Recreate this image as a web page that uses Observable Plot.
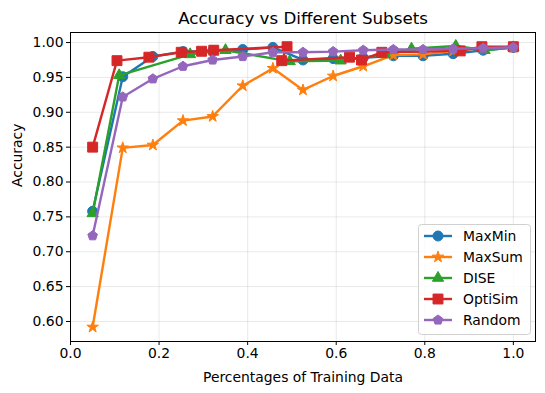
<!DOCTYPE html>
<html>
<head>
<meta charset="utf-8">
<script src="https://cdn.jsdelivr.net/npm/d3@7"></script>
<script src="https://cdn.jsdelivr.net/npm/@observablehq/plot@0.6"></script>
<style>
  html, body { margin: 0; padding: 0; background: #fff; }
  #chart svg { display: block; }
</style>
</head>
<body>
<div id="chart"></div>
<script>
// ---- data ----
const seriesNames = ["MaxMin", "MaxSum", "DISE", "OptiSim", "Random"];
const seriesColors = ["#1f77b4", "#ff7f0e", "#2ca02c", "#d62728", "#9467bd"];

const xGrid = [0.05, 0.118, 0.186, 0.254, 0.321, 0.389, 0.457, 0.525, 0.593, 0.661, 0.729, 0.796, 0.864, 0.932, 1.0];

const xMaxMin = xGrid;
const yMaxMin = [0.758, 0.951, 0.980, 0.987, 0.988, 0.990, 0.993, 0.975, 0.977, 0.978, 0.981, 0.981, 0.984, 0.989, 0.993];

const xMaxSum = xGrid;
const yMaxSum = [0.592, 0.849, 0.853, 0.888, 0.894, 0.938, 0.963, 0.932, 0.952, 0.966, 0.982, 0.983, 0.988, 0.992, 0.993];

const xDISE = [0.05, 0.11, 0.27, 0.35, 0.495, 0.61, 0.71, 0.77, 0.87, 0.935, 1.0];
const yDISE = [0.755, 0.953, 0.983, 0.989, 0.973, 0.974, 0.983, 0.991, 0.995, 0.989, 0.993];

const xOptiSim = [0.05, 0.105, 0.177, 0.25, 0.296, 0.3235, 0.489, 0.477, 0.63, 0.657, 0.703, 0.88, 0.929, 1.0];
const yOptiSim = [0.850, 0.974, 0.979, 0.986, 0.9875, 0.989, 0.994, 0.974, 0.979, 0.975, 0.986, 0.988, 0.994, 0.994];

const xRandom = xGrid;
const yRandom = [0.723, 0.922, 0.948, 0.966, 0.975, 0.980, 0.986, 0.986, 0.987, 0.989, 0.990, 0.990, 0.991, 0.992, 0.993];

const xTicks = [0, 0.2, 0.4, 0.6, 0.8, 1.0];
const yTicks = [0.60, 0.65, 0.70, 0.75, 0.80, 0.85, 0.90, 0.95, 1.00];

const titleText = "Accuracy vs Different Subsets";
const xLabel = "Percentages of Training Data";
const yLabel = "Accuracy";

// ---- symbols ----
const symbolPentagon = {
  draw(context, size) {
    const R = Math.sqrt(size / 2.3776);
    for (let k = 0; k < 5; k++) {
      const a = -Math.PI / 2 + k * 2 * Math.PI / 5;
      const px = R * Math.cos(a), py = R * Math.sin(a);
      if (k === 0) context.moveTo(px, py); else context.lineTo(px, py);
    }
    context.closePath();
  }
};
const seriesSymbols = [d3.symbolCircle, d3.symbolStar, d3.symbolTriangle, d3.symbolSquare, symbolPentagon];
const seriesR = [5, 3.6, 4.2, 5.6, 4.4];

const xs = [xMaxMin, xMaxSum, xDISE, xOptiSim, xRandom];
const ys = [yMaxMin, yMaxSum, yDISE, yOptiSim, yRandom];
const tables = seriesNames.map((name, i) => xs[i].map((x, j) => ({series: name, x, y: ys[i][j]})));

const font = "DejaVu Sans, Liberation Sans, sans-serif";
const fs = 13.9;

const marks = [
  Plot.gridX(xTicks, {stroke: "#b0b0b0", strokeOpacity: 0.35, strokeWidth: 0.8}),
  Plot.gridY(yTicks, {stroke: "#b0b0b0", strokeOpacity: 0.35, strokeWidth: 0.8}),
  Plot.axisX(xTicks, {tickSize: 4, tickPadding: 3, fontSize: fs, tickFormat: d3.format(".1f"), label: null}),
  Plot.axisY(yTicks, {tickSize: 4, tickPadding: 3, fontSize: fs, tickFormat: d3.format(".2f"), label: null}),
];
tables.forEach((t, i) => {
  marks.push(Plot.line(t, {x: "x", y: "y", stroke: seriesColors[i], strokeWidth: 2.4}));
  marks.push(Plot.dot(t, {x: "x", y: "y", symbol: seriesSymbols[i], r: seriesR[i], fill: seriesColors[i], stroke: seriesColors[i], strokeWidth: 1}));
});
marks.push(
  Plot.frame({stroke: "#000", strokeWidth: 1}),
  Plot.text([titleText], {text: d => d, frameAnchor: "top", dy: -14, fontSize: 16.7, lineAnchor: "middle"}),
  Plot.text([xLabel], {text: d => d, frameAnchor: "bottom", dy: 36, fontSize: fs, lineAnchor: "middle"}),
  Plot.text([yLabel], {text: d => d, frameAnchor: "left", dx: -53, rotate: -90, fontSize: fs, lineAnchor: "middle"})
);

const chart = Plot.plot({
  width: 545,
  height: 393,
  marginLeft: 70,
  marginRight: 10,
  marginTop: 32,
  marginBottom: 52,
  style: {fontFamily: font, fontSize: fs + "px", color: "#000", background: "#fff", overflow: "visible"},
  x: {domain: [0, 1.05]},
  y: {domain: [0.5713, 1.0144]},
  marks
});

// ---- legend ----
const svg = d3.select(chart);
const lg = svg.append("g").attr("font-family", font).attr("font-size", fs).attr("text-anchor", "start");
lg.append("rect")
  .attr("x", 418.5).attr("y", 224.5).attr("width", 112).attr("height", 110)
  .attr("rx", 3).attr("fill", "#fff").attr("fill-opacity", 0.8)
  .attr("stroke", "#d0d0d0").attr("stroke-width", 1);
seriesNames.forEach((name, i) => {
  const cy = 236 + 21 * i;
  lg.append("line").attr("x1", 424).attr("x2", 452).attr("y1", cy).attr("y2", cy)
    .attr("stroke", seriesColors[i]).attr("stroke-width", 2.4);
  lg.append("path")
    .attr("d", d3.symbol(seriesSymbols[i], seriesR[i] * seriesR[i] * Math.PI)())
    .attr("transform", `translate(438,${cy})`)
    .attr("fill", seriesColors[i]).attr("stroke", seriesColors[i]);
  lg.append("text").attr("x", 463).attr("y", cy).attr("dy", "0.35em")
    .attr("text-anchor", "start").attr("fill", "#000").text(name);
});

document.getElementById("chart").appendChild(chart);
</script>
</body>
</html>
